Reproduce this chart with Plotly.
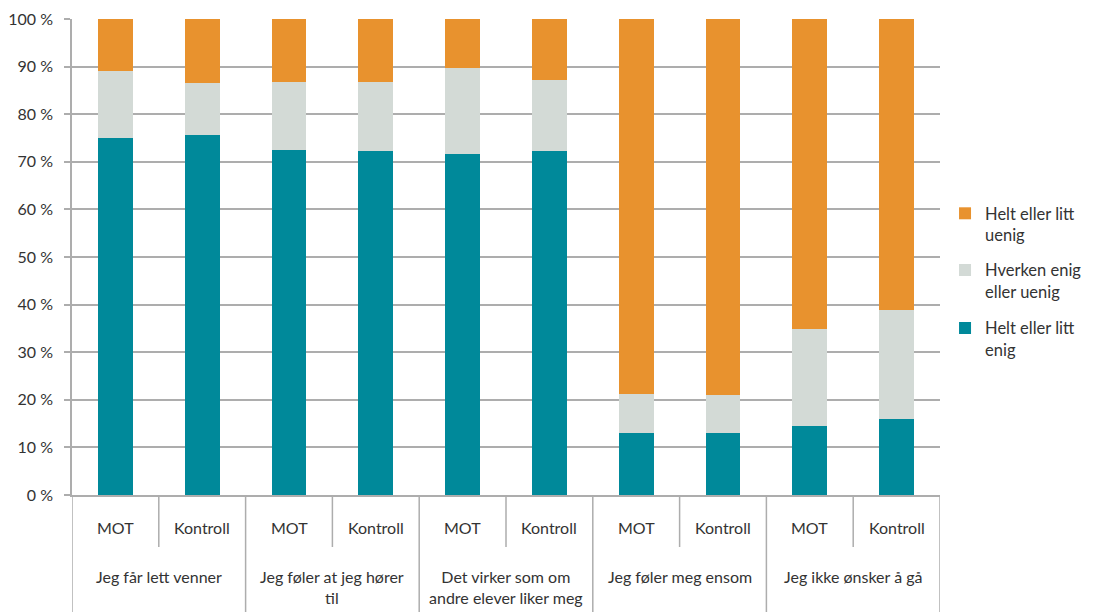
import plotly.graph_objects as go

groups = ["Jeg får lett venner", "Jeg føler at jeg hører<br>til", "Det virker som om<br>andre elever liker meg",
          "Jeg føler meg ensom", "Jeg ikke ønsker å gå"]
subgroups = ["MOT", "Kontroll"]

enig = [75.0, 75.6, 72.5, 72.3, 71.6, 72.3, 13.0, 13.0, 14.5, 16.0]
hverken = [14.1, 11.0, 14.3, 14.5, 18.1, 14.9, 8.2, 8.0, 20.4, 22.9]
uenig = [10.9, 13.4, 13.2, 13.2, 10.3, 12.8, 78.8, 79.0, 65.1, 61.1]

series_names = ["Helt eller litt<br>enig", "Hverken enig<br>eller uenig", "Helt eller litt<br>uenig"]
colors = ["#00899A", "#D3DAD6", "#E8922E"]
legend_ids = ["legend3", "legend2", "legend"]
legend_tops = [0.387, 0.509, 0.628]

keys = [f"{g}|{s}" for g in groups for s in subgroups]

fig = go.Figure()
for name, vals, col, lid in zip(series_names, [enig, hverken, uenig], colors, legend_ids):
    fig.add_trace(go.Bar(x=keys, y=vals, name=name, marker_color=col, marker_line_width=0,
                         legend=lid, showlegend=True))

font = "Lato, 'Open Sans', sans-serif"
txt = "#333333"
line_col = "#adadad"
plot_h = 604 - 11 - 117

def py(px_below):
    return -px_below / plot_h

# sub labels
for k, (g, s) in zip(keys, [(g, s) for g in groups for s in subgroups]):
    fig.add_annotation(x=k, xref="x", y=py(32), yref="paper", text=s, showarrow=False,
                       yanchor="middle", font=dict(size=16, color=txt))
# group labels and dividers
n = len(subgroups)
for i, g in enumerate(groups):
    fig.add_annotation(x=i * n + (n - 1) / 2, xref="x", y=py(70), yref="paper", text=g,
                       showarrow=False, yanchor="top", font=dict(size=16, color=txt))
for j in range(len(keys) + 1):
    long = (j % n == 0)
    fig.add_shape(type="line", xref="x", yref="paper", x0=j - 0.5, x1=j - 0.5,
                  y0=0, y1=py(117 if long else 52), line=dict(color=line_col, width=1.5))

legend_common = dict(x=1.0058, xanchor="left", yanchor="top", valign="top",
                     font=dict(size=16.5, color=txt), bgcolor="rgba(0,0,0,0)")
legends = {lid: dict(y=top, **legend_common) for lid, top in zip(legend_ids, legend_tops)}

fig.update_layout(
    barmode="stack", bargap=0.6,
    width=1086, height=604,
    margin=dict(l=64, r=154, t=11, b=117, autoexpand=False),
    paper_bgcolor="white", plot_bgcolor="white",
    showlegend=True,
    font=dict(family=font, size=16, color=txt),
    **legends,
    xaxis=dict(range=[-0.5, len(keys) - 0.5], showticklabels=False, ticks="",
               showline=True, linecolor=line_col, linewidth=1.5, showgrid=False,
               automargin=False),
    yaxis=dict(range=[0, 100], tickvals=list(range(0, 101, 10)),
               ticktext=[f"{v} %" for v in range(0, 101, 10)],
               showgrid=True, gridcolor=line_col, gridwidth=1.5,
               showline=True, linecolor=line_col, linewidth=1.5,
               ticks="outside", ticklen=6, tickcolor=line_col, tickwidth=1.5,
               ticklabelstandoff=8,
               tickfont=dict(size=16, color=txt), zeroline=False, automargin=False),
)

fig.write_html("out.html")
